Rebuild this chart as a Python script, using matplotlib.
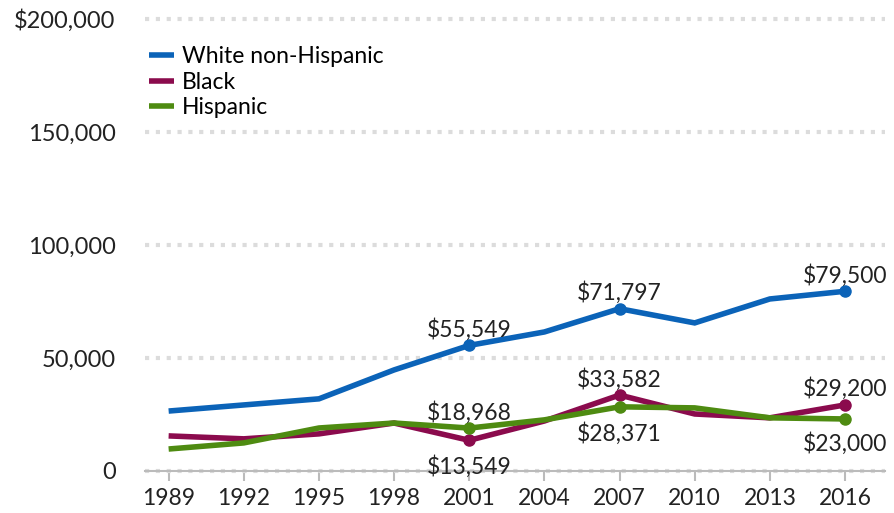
import matplotlib
matplotlib.use("Agg")
import matplotlib.pyplot as plt

plt.rcParams["font.family"] = ["Lato", "DejaVu Sans"]

years = [1989, 1992, 1995, 1998, 2001, 2004, 2007, 2010, 2013, 2016]
white = [26500, 29200, 31900, 44700, 55549, 61500, 71797, 65500, 76100, 79500]
black = [15500, 14200, 16400, 21200, 13549, 22100, 33582, 25200, 23500, 29200]
hispanic = [9700, 12400, 19000, 21200, 18968, 22600, 28371, 27900, 23500, 23000]

y_ticks = [0, 50000, 100000, 150000, 200000]
y_labels = ["0", "50,000", "100,000", "150,000", "$200,000"]

# labelled points per series: (year, offset in points; + above, - below)
white_notes = [(2001, 11.5), (2007, 11.5), (2016, 11.5)]
black_notes = [(2001, -19), (2007, 11.5), (2016, 11.5)]
hispanic_notes = [(2001, 11.5), (2007, -19), (2016, -18)]

series = [
    ("White non-Hispanic", white, "#0b63b8", white_notes),
    ("Black", black, "#8b0b4d", black_notes),
    ("Hispanic", hispanic, "#4e8b11", hispanic_notes),
]

FS = 16.5

fig = plt.figure(figsize=(8.94, 5.13), dpi=100)
ax = fig.add_axes([0.162, 0.082, 0.828, 0.881])

for name, vals, color, notes in series:
    ax.plot(years, vals, color=color, lw=4, label=name, solid_capstyle="butt",
            solid_joinstyle="miter", zorder=3)
    for yr, off in notes:
        v = vals[years.index(yr)]
        ax.plot(yr, v, "o", color=color, ms=8, zorder=4, clip_on=False)
        ax.annotate(f"${v:,}", (yr, v), xytext=(0, off), textcoords="offset points",
                    ha="center", va="center", fontsize=FS, color="#222222", zorder=5)

ax.set_xlim(1988.05, 2017.6)
ax.set_ylim(0, 200000)
ax.set_xticks(years)
ax.set_yticks(y_ticks)
ax.set_yticklabels(y_labels)
ax.tick_params(axis="y", length=0, pad=21, labelsize=17, labelcolor="#222222")
ax.tick_params(axis="x", length=7, width=1.5, color="#bbbbbb", pad=5,
               labelsize=FS, labelcolor="#222222")

for s in ["top", "right", "left"]:
    ax.spines[s].set_visible(False)
ax.spines["bottom"].set_color("#bbbbbb")
ax.spines["bottom"].set_linewidth(1.5)

ax.yaxis.grid(True, color="#dcdcdc", lw=3, linestyle=(0, (1, 1.6)))
for gl in ax.get_ygridlines():
    gl.set_clip_on(False)
ax.set_axisbelow(True)

ax.legend(loc="upper left", bbox_to_anchor=(-0.016, 0.975), frameon=False,
          fontsize=FS, handlelength=1.1, handletextpad=0.35, labelspacing=0.2,
          borderaxespad=0.3)

fig.savefig("out.png", dpi=100)
